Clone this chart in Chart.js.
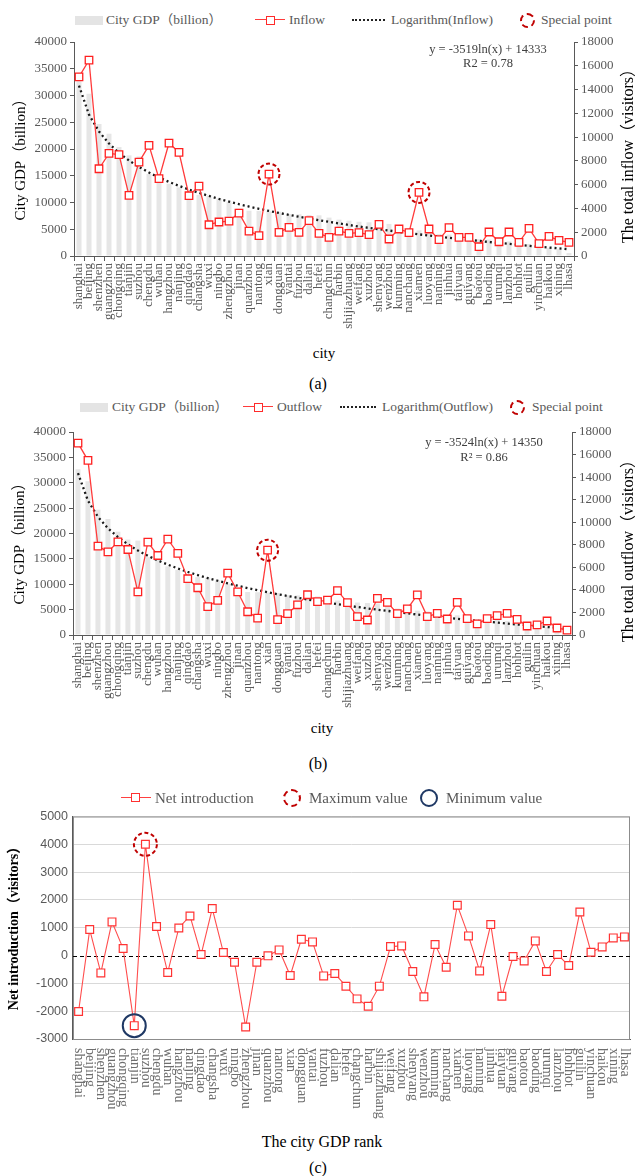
<!DOCTYPE html>
<html><head><meta charset="utf-8">
<script src="https://cdn.jsdelivr.net/npm/chart.js@4.4.1/dist/chart.umd.min.js"></script>
<style>
html,body{margin:0;padding:0;background:#fff;}
body{width:638px;height:1176px;position:relative;overflow:hidden;font-family:"Liberation Serif","Noto Sans CJK SC",serif;}
.cv{position:absolute;left:0;}
.t{position:absolute;white-space:nowrap;transform:translate(-50%,-50%);color:#000;z-index:5;line-height:1;}
.rot{transform:translate(-50%,-50%) rotate(-90deg);}
.leg{position:absolute;white-space:nowrap;color:#595959;z-index:5;line-height:1;transform:translateY(-50%);}
.sym{position:absolute;z-index:5;box-sizing:border-box;}
</style></head>
<body>
<!-- Panel (a) legend -->
<div class="sym" style="left:75px;top:16px;width:28px;height:9px;background:#e4e4e4;"></div>
<div class="leg" style="left:106px;top:20px;font-size:13.5px;">City GDP（billion）</div>
<div class="sym" style="left:255px;top:19px;width:30px;height:0;border-top:1.5px solid #ff3b3b;"></div>
<div class="sym" style="left:266px;top:16px;width:9px;height:9px;border:1.4px solid #ff2a2a;background:#fff;"></div>
<div class="leg" style="left:289px;top:20px;font-size:13.5px;">Inflow</div>
<div class="sym" style="left:352px;top:19px;width:33px;height:0;border-top:2px dotted #222;"></div>
<div class="leg" style="left:391px;top:20px;font-size:13.5px;">Logarithm(Inflow)</div>
<div class="sym" style="left:520px;top:13px;width:15px;height:15px;border:2px dashed #c00000;border-radius:50%;"></div>
<div class="leg" style="left:541px;top:20px;font-size:13.5px;">Special point</div>

<div class="cv" style="top:30px;"><canvas id="ca" width="638" height="310"></canvas></div>
<div class="t rot" style="left:20px;top:156px;font-size:15px;">City GDP（billion）</div>
<div class="t rot" style="left:628px;top:152px;font-size:16px;">The total inflow（visitors）</div>
<div class="t" style="left:488px;top:49px;font-size:12.5px;color:#404040;">y = -3519ln(x) + 14333</div>
<div class="t" style="left:488px;top:63px;font-size:12.5px;color:#404040;">R2 = 0.78</div>
<div class="t" style="left:324px;top:353px;font-size:15px;">city</div>
<div class="t" style="left:318px;top:384px;font-size:16px;">(a)</div>

<!-- Panel (b) legend -->
<div class="sym" style="left:80px;top:403px;width:28px;height:9px;background:#e4e4e4;"></div>
<div class="leg" style="left:112px;top:407px;font-size:13.5px;">City GDP（billion）</div>
<div class="sym" style="left:243px;top:406px;width:30px;height:0;border-top:1.5px solid #ff3b3b;"></div>
<div class="sym" style="left:254px;top:403px;width:9px;height:9px;border:1.4px solid #ff2a2a;background:#fff;"></div>
<div class="leg" style="left:277px;top:407px;font-size:13.5px;">Outflow</div>
<div class="sym" style="left:340px;top:406px;width:36px;height:0;border-top:2px dotted #222;"></div>
<div class="leg" style="left:382px;top:407px;font-size:13.5px;">Logarithm(Outflow)</div>
<div class="sym" style="left:510px;top:400px;width:15px;height:15px;border:2px dashed #c00000;border-radius:50%;"></div>
<div class="leg" style="left:532px;top:407px;font-size:13.5px;">Special point</div>

<div class="cv" style="top:420px;"><canvas id="cb" width="638" height="299"></canvas></div>
<div class="t rot" style="left:19px;top:540px;font-size:15px;">City GDP（billion）</div>
<div class="t rot" style="left:628px;top:547px;font-size:16px;">The total outflow（visitors）</div>
<div class="t" style="left:484px;top:442px;font-size:12.5px;color:#404040;">y = -3524ln(x) + 14350</div>
<div class="t" style="left:484px;top:457px;font-size:12.5px;color:#404040;">R² = 0.86</div>
<div class="t" style="left:322px;top:728px;font-size:15px;">city</div>
<div class="t" style="left:318px;top:764px;font-size:16px;">(b)</div>

<!-- Panel (c) legend -->
<div class="sym" style="left:121px;top:797px;width:30px;height:0;border-top:1.6px solid #ff4040;"></div>
<div class="sym" style="left:131px;top:793px;width:9px;height:9px;border:1.5px solid #ff3030;background:#fff;"></div>
<div class="leg" style="left:155px;top:798px;font-size:15px;">Net introduction</div>
<div class="sym" style="left:283px;top:789px;width:18px;height:18px;border:2px dashed #c00000;border-radius:50%;"></div>
<div class="leg" style="left:309px;top:798px;font-size:15px;">Maximum value</div>
<div class="sym" style="left:420px;top:789px;width:18px;height:18px;border:2px solid #1f3864;border-radius:50%;"></div>
<div class="leg" style="left:446px;top:798px;font-size:15px;">Minimum value</div>

<div class="cv" style="top:804px;"><canvas id="cc" width="638" height="315"></canvas></div>
<div class="t rot" style="left:14px;top:925px;font-size:14px;font-weight:bold;">Net introduction（visitors）</div>
<div class="t" style="left:322px;top:1142px;font-size:16px;">The city GDP rank</div>
<div class="t" style="left:318px;top:1168px;font-size:16px;">(c)</div>

<script>
const cities = ['shanghai','beijing','shenzhen','guangzhou','chongqing','tianjin','suzhou','chengdu','wuhan','hangzhou','nanjing','qingdao','changsha','wuxi','ningbo','zhengzhou','jinan','quanzhou','nantong','xian','dongguan','yantai','fuzhou','dalian','hefei','changchun','harbin','shijiazhuang','weifang','xuzhou','shenyang','wenzhou','kunming','nanchang','xiamen','luoyang','nanning','jinhua','taiyuan','guiyang','baotou','baoding','urumqi','lanzhou','hohhot','guilin','yinchuan','haikou','xining','lhasa'];

const gdp = [32680,30320,24690,22860,20360,18810,18600,15340,14850,13510,12820,12000,11400,11300,10750,10140,8860,8470,8430,8350,8280,7830,7800,7670,7600,7180,6800,6600,6400,6300,6200,6000,5210,5150,4790,4640,4100,4000,3880,3800,3150,3070,3000,2730,2600,2250,1900,1510,1290,540];

const inflow = [15070,16470,7340,8630,8520,5100,7900,9300,6500,9500,8710,5070,5880,2630,2860,2940,3610,2100,1710,6890,1990,2410,1990,2970,1900,1570,2100,1900,1960,1790,2660,1430,2270,1960,5350,2270,1370,2380,1570,1570,780,2020,1200,2020,1150,2320,1040,1650,1320,1150];

const inflowTrend = [14330,11890,10470,9460,8670,8030,7490,7020,6600,6230,5900,5590,5310,5050,4800,4580,4360,4160,3970,3790,3620,3460,3300,3150,3010,2870,2740,2610,2480,2360,2250,2140,2030,1920,1820,1720,1630,1530,1440,1350,1270,1180,1100,1020,940,860,780,710,640,570];

const outflow = [17020,15490,7880,7370,8260,7580,3830,8230,7050,8500,7230,4990,4190,2510,3070,5490,3830,2060,1500,7520,1360,1890,2680,3570,2960,3100,3930,2870,1630,1330,3250,2900,1890,2310,3550,1630,1920,1420,2900,1450,980,1450,1720,1920,1390,800,890,1240,620,440];

const outflowTrend = [14350,11910,10480,9470,8680,8040,7490,7020,6610,6240,5900,5590,5310,5050,4810,4580,4370,4160,3970,3790,3620,3460,3300,3150,3010,2870,2740,2610,2480,2360,2250,2140,2030,1920,1820,1720,1630,1530,1440,1350,1260,1180,1100,1010,930,860,780,710,640,560];

const netIntro = [-2010,934,-623,1210,251,-2520,4000,1042,-611,994,1425,36,1689,108,-240,-2570,-240,-10,204,-719,587,491,-731,-647,-1102,-1557,-1820,-1100,323,347,-575,-1485,395,-419,1808,707,-551,1114,-1461,-36,-192,527,-575,36,-359,1569,120,311,635,671];

const inflowSpecial = ['xian','xiamen'];
const outflowSpecial = ['xian'];
const netMaxCity = 'suzhou';
const netMinCity = 'tianjin';

const gdpAxis = {min:0, max:40000, step:5000};
const flowAxis = {min:0, max:18000, step:2000};
const netAxis = {min:-3000, max:5000, step:1000};

const SERIF = "'Liberation Serif','Noto Sans CJK SC',serif";
const SANS = "'Liberation Sans','DejaVu Sans',sans-serif";
Chart.defaults.font.family = SERIF;
Chart.defaults.animation = false;
const plain = v => String(v);

const ringPlugin = {
  id: 'rings',
  afterDatasetsDraw(chart, args, opts) {
    const ctx = chart.ctx;
    (opts.items || []).forEach(it => {
      const p = chart.getDatasetMeta(it.ds).data[cities.indexOf(it.city)];
      if (!p) return;
      ctx.save();
      ctx.beginPath();
      ctx.arc(p.x, p.y, it.r, 0, Math.PI * 2);
      ctx.lineWidth = it.w;
      ctx.strokeStyle = it.color;
      ctx.setLineDash(it.dash || []);
      ctx.stroke();
      ctx.restore();
    });
  }
};

function flowChart(id, flow, trend, special, leftW, rightW, bottomH) {
  new Chart(document.getElementById(id), {
    type: 'bar',
    data: {
      labels: cities,
      datasets: [
        {type:'line', data: flow, yAxisID:'y1', borderColor:'#ff3b3b', borderWidth:1.3,
         pointStyle:'rect', pointRadius:5.3, pointBackgroundColor:'#fff', pointBorderColor:'#ff2020',
         pointBorderWidth:1.3, tension:0, order:0},
        {type:'line', data: trend, yAxisID:'y1', borderColor:'#1a1a1a', borderWidth:2.3,
         borderDash:[2,3], pointRadius:0, tension:0, order:1},
        {type:'bar', data: gdp, yAxisID:'y', backgroundColor:'#e6e6e6', barPercentage:0.5,
         categoryPercentage:1, order:2}
      ]
    },
    options: {
      responsive:false, devicePixelRatio:1,
      layout:{padding:{top:12,left:0,right:0,bottom:0}},
      plugins:{legend:{display:false}, tooltip:{enabled:false},
        rings:{items: special.map(c => ({ds:0, city:c, r:10.5, w:2, color:'#c00000', dash:[4,2.6]}))}},
      scales:{
        x:{type:'category', offset:true,
           grid:{display:true, drawOnChartArea:false, drawTicks:true, tickLength:5, color:'#595959', offset:true},
           border:{display:true, color:'#595959'},
           ticks:{autoSkip:false, minRotation:90, maxRotation:90, padding:2, color:'#595959',
                  font:{family:SERIF, size:13}},
           afterFit(s){ s.height = bottomH; }},
        y:{position:'left', min:gdpAxis.min, max:gdpAxis.max,
           ticks:{stepSize:gdpAxis.step, callback:plain, color:'#595959', padding:3, font:{family:SERIF, size:13}},
           grid:{drawOnChartArea:false, tickLength:4, color:'#595959'},
           border:{display:true, color:'#595959'},
           afterFit(s){ s.width = leftW; }},
        y1:{position:'right', min:flowAxis.min, max:flowAxis.max,
           ticks:{stepSize:flowAxis.step, callback:plain, color:'#595959', padding:3, font:{family:SERIF, size:13}},
           grid:{drawOnChartArea:false, tickLength:4, color:'#595959'},
           border:{display:true, color:'#595959'},
           afterFit(s){ s.width = rightW; }}
      }
    },
    plugins:[ringPlugin]
  });
}

flowChart('ca', inflow, inflowTrend, inflowSpecial, 74, 64, 84);
flowChart('cb', outflow, outflowTrend, outflowSpecial, 73, 66, 84);

const cExtras = {
  id:'cExtras',
  beforeDatasetsDraw(chart){
    const {ctx, chartArea:a, scales:{y}} = chart;
    ctx.save();
    ctx.strokeStyle = '#8c8c8c'; ctx.lineWidth = 1;
    ctx.strokeRect(a.left + 0.5, a.top + 0.5, a.right - a.left - 1, a.bottom - a.top);
    const y0 = Math.round(y.getPixelForValue(0)) + 0.5;
    ctx.setLineDash([4,3]); ctx.strokeStyle = '#000'; ctx.lineWidth = 1.2;
    ctx.beginPath(); ctx.moveTo(a.left, y0); ctx.lineTo(a.right, y0); ctx.stroke();
    ctx.restore();
  },
  afterDraw(chart){
    const {ctx, chartArea:a, scales:{x}} = chart;
    ctx.save();
    ctx.fillStyle = '#6e6e6e';
    ctx.font = "14px " + SERIF;
    ctx.textAlign = 'left'; ctx.textBaseline = 'middle';
    cities.forEach((c, i) => {
      const px = x.getPixelForValue(i);
      ctx.save();
      ctx.translate(px, a.bottom + 9);
      ctx.rotate(Math.PI / 2);
      ctx.fillText(c, 0, 0);
      ctx.restore();
    });
    ctx.restore();
  }
};

new Chart(document.getElementById('cc'), {
  type:'line',
  data:{labels:cities, datasets:[
    {data: netIntro, borderColor:'#ff4d4d', borderWidth:1.1, pointStyle:'rect', pointRadius:5.5,
     pointBackgroundColor:'#fff', pointBorderColor:'#ff3333', pointBorderWidth:1.2, tension:0}
  ]},
  options:{
    responsive:false, devicePixelRatio:1,
    layout:{padding:{top:12,left:0,right:8,bottom:0}},
    plugins:{legend:{display:false}, tooltip:{enabled:false},
      rings:{items:[
        {ds:0, city:netMaxCity, r:11.5, w:2, color:'#c00000', dash:[4,2.6]},
        {ds:0, city:netMinCity, r:11.5, w:2, color:'#1f3864'}
      ]}},
    scales:{
      x:{type:'category', offset:true, grid:{display:false}, ticks:{display:false},
         border:{display:true, color:'#595959'},
         afterFit(s){ s.height = 80; }},
      y:{min:netAxis.min, max:netAxis.max,
         ticks:{stepSize:netAxis.step, callback:plain, color:'#595959', padding:5, font:{family:SANS, size:12.5}},
         grid:{drawTicks:false, color: c => c.tick && c.tick.value === 0 ? 'rgba(0,0,0,0)' : '#d9d9d9'},
         border:{display:true, color:'#595959', width:1.2},
         afterFit(s){ s.width = 73; }}
    }
  },
  plugins:[cExtras, ringPlugin]
});
</script>
</body></html>
